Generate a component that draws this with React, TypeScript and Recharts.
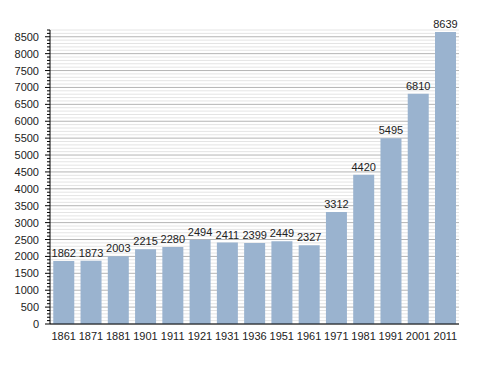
import React from "react";
import { BarChart, Bar, XAxis, YAxis, CartesianGrid, LabelList } from "recharts";

const years = ["1861", "1871", "1881", "1901", "1911", "1921", "1931", "1936", "1951", "1961", "1971", "1981", "1991", "2001", "2011"];
const population = [1862, 1873, 2003, 2215, 2280, 2494, 2411, 2399, 2449, 2327, 3312, 4420, 5495, 6810, 8639];
const yTicks = Array.from({ length: 88 }, (_, i) => i * 100);

const data = years.map((y, i) => ({ year: y, pop: population[i] }));

const AXIS_X = 50;
const FONT = "'Liberation Sans', Arial, sans-serif";

function YTick(props: any) {
  const { y, payload } = props;
  const major = payload.value % 500 === 0;
  return (
    <g>
      <line x1={AXIS_X - (major ? 5 : 3)} x2={AXIS_X} y1={y} y2={y} stroke="#000" strokeWidth={1} />
      {major && (
        <text x={AXIS_X - 11} y={y} dy={4} textAnchor="end" fontSize={11} fill="#222" fontFamily={FONT}>
          {payload.value}
        </text>
      )}
    </g>
  );
}

function GridLine(props: any) {
  const { x1, x2, y1, y2, index } = props;
  const major = index % 5 === 0;
  return <line x1={x1} x2={x2} y1={y1} y2={y2} stroke={major ? "#b4b4b4" : "#e4e4e4"} strokeWidth={1} />;
}

export default function App() {
  return (
    <div style={{ position: "absolute", left: 0, top: 0, background: "#fff" }}>
      <BarChart
        width={488}
        height={373}
        data={data}
        margin={{ top: 30, right: 29, left: 0, bottom: 29 }}
        barCategoryGap="12%"
      >
        <CartesianGrid vertical={false} horizontal={(p: any) => <GridLine {...p} />} />
        <XAxis
          dataKey="year"
          tickLine={false}
          axisLine={{ stroke: "#000" }}
          tick={{ fontSize: 11, fill: "#222", fontFamily: FONT }}
          tickMargin={2}
          interval={0}
          height={20}
        />
        <YAxis
          width={50}
          domain={[0, 8700]}
          ticks={yTicks}
          interval={0}
          tickLine={false}
          axisLine={{ stroke: "#000" }}
          tick={(p: any) => <YTick {...p} />}
        />
        <Bar dataKey="pop" fill="#9ab3cf" isAnimationActive={false}>
          <LabelList dataKey="pop" position="top" offset={4} fontSize={11} fill="#222" fontFamily={FONT} />
        </Bar>
      </BarChart>
    </div>
  );
}
